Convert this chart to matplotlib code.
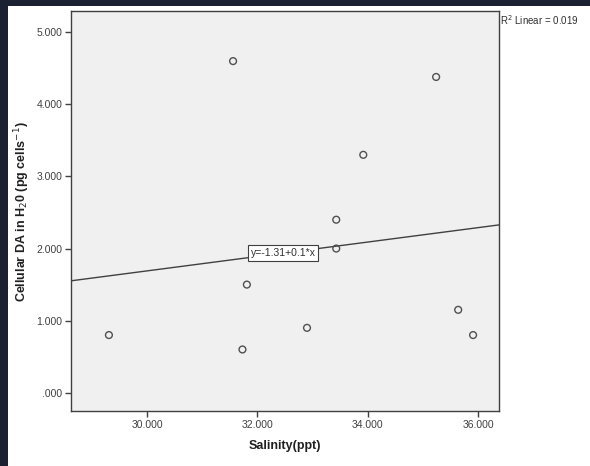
import numpy as np
import matplotlib.pyplot as plt
from matplotlib.patches import Rectangle
from matplotlib.ticker import FuncFormatter

plt.rcParams['font.family'] = ['Liberation Sans', 'DejaVu Sans']

# Salinity (ppt) and cellular DA (pg cells^-1)
salinity = [29.31, 31.56, 31.73, 31.81, 32.90, 33.43, 33.43, 33.92, 35.24, 35.64, 35.91]
cellular_da = [0.80, 4.60, 0.60, 1.50, 0.90, 2.40, 2.00, 3.30, 4.38, 1.15, 0.80]

# Linear fit as reported
intercept = -1.31
slope = 0.1
r_squared = 0.019

xticks = [30, 32, 34, 36]
yticks = [0, 1, 2, 3, 4, 5]


def spss_fmt(v, pos):
    s = "%.3f" % v
    if s.startswith("0."):
        s = s[1:]
    return s


fig = plt.figure(figsize=(5.9, 4.66), dpi=100, facecolor='#1b2130')
fig.patches.append(Rectangle((8 / 590, 0), 1, 1 - 6 / 466, transform=fig.transFigure,
                             facecolor='white', edgecolor='none', zorder=-10))

ax = fig.add_axes([0.1198, 0.117, 0.726, 0.8594])
ax.set_zorder(1)
ax.set_facecolor('#f0f0f0')
ax.set_xlim(28.617, 36.38)
ax.set_ylim(-0.26, 5.295)

for sp in ax.spines.values():
    sp.set_color('#404040')
    sp.set_linewidth(1.0)

ax.scatter(salinity, cellular_da, s=24, facecolors='none', edgecolors='#505050',
           linewidths=1.0, zorder=3)

xs = np.array(ax.get_xlim())
ax.plot(xs, intercept + slope * xs, color='#404040', lw=1.0, zorder=2)

ax.text(32.47, intercept + slope * 32.47, "y=-1.31+0.1*x", fontsize=7.5, color='#303030',
        ha='center', va='center', zorder=4,
        bbox=dict(boxstyle='square,pad=0.25', facecolor='white', edgecolor='#404040', lw=0.8))

ax.set_xticks(xticks)
ax.set_yticks(yticks)
ax.xaxis.set_major_formatter(FuncFormatter(spss_fmt))
ax.yaxis.set_major_formatter(FuncFormatter(spss_fmt))
ax.tick_params(direction='out', length=4, width=1, color='#404040',
               labelsize=7.5, labelcolor='#404040', pad=2)

ax.set_xlabel("Salinity(ppt)", fontsize=9, fontweight='bold', color='#202020', labelpad=7)
ax.set_ylabel("Cellular DA in H$_2$0 (pg cells$^{-1}$)", fontsize=9, fontweight='bold',
              color='#202020', labelpad=3)

fig.text(500 / 590, 1 - 20 / 466, "R$^2$ Linear = %.3f" % r_squared, fontsize=7,
         color='#303030', ha='left', va='center')

fig.savefig('out.png', dpi=100, facecolor=fig.get_facecolor())
